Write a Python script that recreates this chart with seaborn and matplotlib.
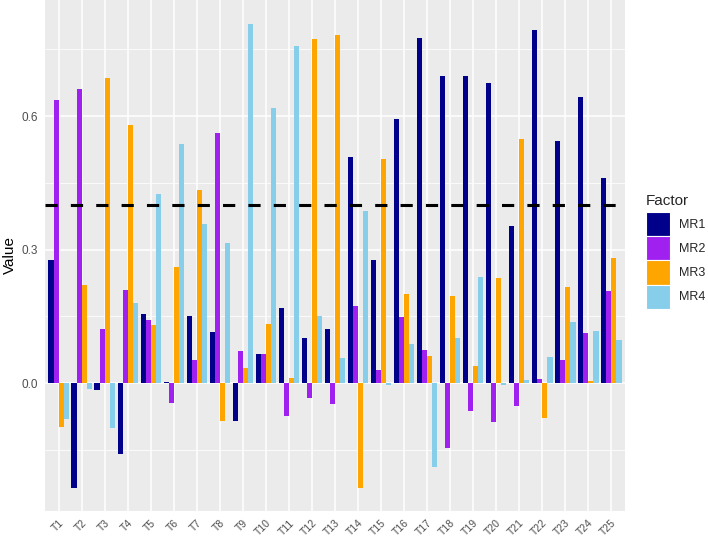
import matplotlib.pyplot as plt
import matplotlib.patches as mpatches
import seaborn as sns
import pandas as pd

items = [f"T{i}" for i in range(1, 26)]
factors = ["MR1", "MR2", "MR3", "MR4"]

mr1 = [0.277, -0.236, -0.015, -0.159, 0.155, 0.003, 0.152, 0.115, -0.085, 0.065,
       0.168, 0.101, 0.121, 0.509, 0.277, 0.594, 0.775, 0.690, 0.690, 0.674,
       0.354, 0.794, 0.544, 0.642, 0.461]
mr2 = [0.636, 0.662, 0.121, 0.210, 0.143, -0.044, 0.052, 0.562, 0.072, 0.065,
       -0.073, -0.033, -0.046, 0.174, 0.029, 0.148, 0.075, -0.146, -0.062, -0.087,
       -0.052, 0.009, 0.052, 0.114, 0.207]
mr3 = [-0.098, 0.221, 0.686, 0.581, 0.131, 0.261, 0.434, -0.085, 0.035, 0.134,
       0.012, 0.773, 0.782, -0.236, 0.503, 0.201, 0.061, 0.195, 0.038, 0.237,
       0.549, -0.077, 0.217, 0.005, 0.281]
mr4 = [-0.081, -0.013, -0.100, 0.180, 0.426, 0.537, 0.358, 0.314, 0.807, 0.618,
       0.758, 0.152, 0.056, 0.387, -0.005, 0.089, -0.189, 0.101, 0.238, -0.004,
       0.008, 0.059, 0.138, 0.118, 0.097]

colors = ["#00008B", "#A020F0", "#FFA500", "#87CEEB"]
threshold = 0.4

df = pd.DataFrame({"Item": items, "MR1": mr1, "MR2": mr2, "MR3": mr3, "MR4": mr4})
df = df.melt(id_vars="Item", var_name="Factor", value_name="Value")

sns.set_theme(style="darkgrid")
plt.rcParams["font.family"] = ["Liberation Sans", "DejaVu Sans"]

fig = plt.figure(figsize=(7.08, 5.4), dpi=100)
ax = fig.add_axes([45 / 708, 1 - 511 / 540, 580 / 708, 511 / 540])
ax.set_facecolor("#EBEBEB")

sns.barplot(data=df, x="Item", y="Value", hue="Factor", order=items,
            hue_order=factors, palette=colors, width=0.9, gap=0,
            saturation=1, errorbar=None, legend=False, ax=ax,
            linewidth=0, zorder=3)

ax.axhline(threshold, color="black", linewidth=2.2, linestyle=(0, (4, 4.3)), zorder=4)

ax.set_xlim(-0.6, 24.6)
ax.set_ylim(-0.287, 0.861)
ax.set_yticks([0.0, 0.3, 0.6])
ax.set_yticklabels(["0.0", "0.3", "0.6"])
ax.set_yticks([-0.15, 0.15, 0.45, 0.75], minor=True)
ax.grid(which="major", color="white", linewidth=1.1, zorder=0)
ax.grid(which="minor", axis="y", color="white", linewidth=0.55, zorder=0)
ax.set_axisbelow(True)
for s in ax.spines.values():
    s.set_visible(False)

ax.tick_params(axis="both", which="major", length=3, width=0.8, color="#333333",
               labelcolor="#4D4D4D", pad=2)
ax.tick_params(axis="y", labelsize=8.5)
ax.tick_params(axis="x", labelsize=7.5)
ax.tick_params(axis="y", which="minor", length=0)
plt.setp(ax.get_xticklabels(), rotation=45, ha="right", rotation_mode="anchor")
ax.set_xlabel("")
ax.set_ylabel("Value", fontsize=11, color="black", labelpad=3)

handles = [mpatches.Patch(facecolor=c, edgecolor="white", linewidth=0.8, label=f)
           for c, f in zip(colors, factors)]
leg = fig.legend(handles=handles, title="Factor", loc="upper left",
                 bbox_to_anchor=(646 / 708, 1 - 198 / 540), frameon=False,
                 fontsize=9, title_fontsize=11, handlelength=1.9, handleheight=2.6,
                 labelspacing=0.0, handletextpad=0.7, borderaxespad=0, borderpad=0)
leg._legend_box.align = "left"
leg.get_title().set_position((0, 4))

fig.savefig("out.png", dpi=100)
